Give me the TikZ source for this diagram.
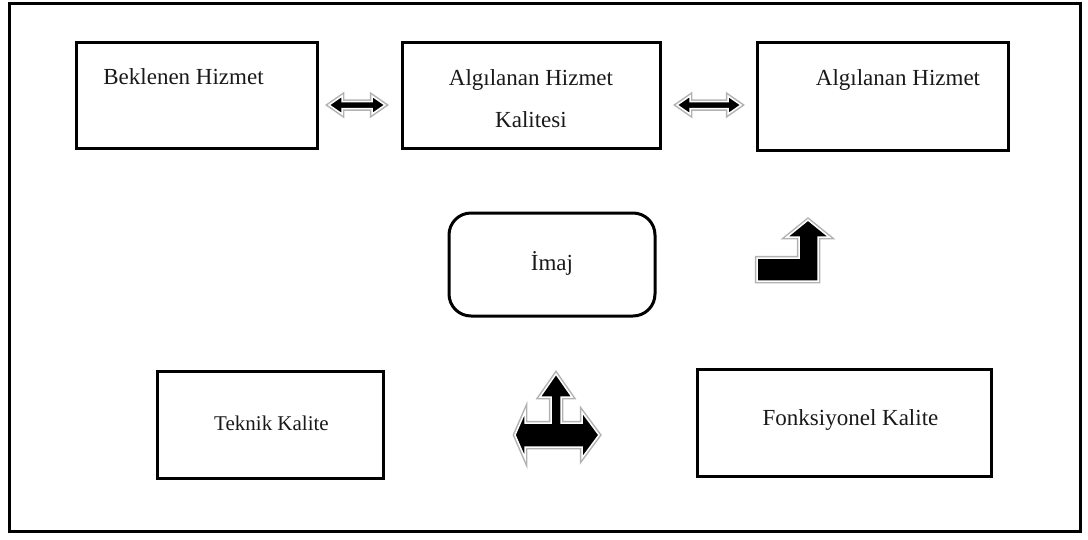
\documentclass[tikz,border=0pt]{standalone}
\usepackage{fontspec}
\setmainfont{Liberation Serif}

\begin{document}
\begin{tikzpicture}[x=1pt,y=-1pt,
    box/.style={draw, line width=3pt, inner sep=0pt},
    lbl/.style={font=\fontsize{23}{42}\selectfont, text=black!90, inner sep=0pt, anchor=base},
    blockarrow/.style={fill=black, draw=white, line width=1.5pt, line join=miter,
        preaction={draw=gray!60, line width=4.5pt, line join=miter}}]
    \useasboundingbox (0,0) rectangle (1088,539);
    \node[box, minimum width=1071pt, minimum height=528pt] (frame) at (545,267) {};

    % boxes
    \node[box, minimum width=241pt, minimum height=106pt] (bek) at (196.5,95) {};
    \node[box, minimum width=258pt, minimum height=106pt] (ahk) at (531,95) {};
    \node[box, minimum width=251pt, minimum height=108pt] (ah) at (882.5,96) {};
    \node[box, rounded corners=22pt, minimum width=206pt, minimum height=103pt] (imaj) at (552,264.5) {};
    \node[box, minimum width=226pt, minimum height=107pt] (tek) at (270,424.5) {};
    \node[box, minimum width=294pt, minimum height=107pt] (fon) at (844,422.5) {};

    % texts
    \node[lbl] (bekT) at (183.5,84) {Beklenen Hizmet};
    \node[lbl, align=center] (ahkT) at (531,127) {Algılanan Hizmet\\Kalitesi};
    \node[lbl] (ahT) at (898,85) {Algılanan Hizmet};
    \node[lbl] (imajT) at (552,270) {İmaj};
    \node[lbl, font=\fontsize{21}{42}\selectfont] (tekT) at (271.5,430) {Teknik Kalite};
    \node[lbl] (fonT) at (850.5,425) {Fonksiyonel Kalite};

    % block arrows
    \coordinate (dblA) at (357,105);
    \coordinate (dblB) at (709,105);
    \foreach \c/\l in {dblA/15, dblB/19}
        \draw[blockarrow, shift={(\c)}] ({-\l-13},0) -- (-\l,-9) -- (-\l,-3.5) -- (\l,-3.5)
            -- (\l,-9) -- ({\l+13},0) -- (\l,9) -- (\l,3.5) -- (-\l,3.5) -- (-\l,9) -- cycle;
    \draw[blockarrow] (757,258) -- (799,258) -- (799,237) -- (787,237) -- (808,220)
        -- (829,237) -- (818,237) -- (818,281) -- (757,281) -- cycle;
    \draw[blockarrow] (556,374) -- (572,397) -- (561,397) -- (561,423) -- (582,423)
        -- (582,412) -- (599,435) -- (582,458) -- (582,447) -- (525,447) -- (525,458)
        -- (515,435) -- (525,412) -- (525,423) -- (551,423) -- (551,397) -- (540,397) -- cycle;
\end{tikzpicture}
\end{document}
